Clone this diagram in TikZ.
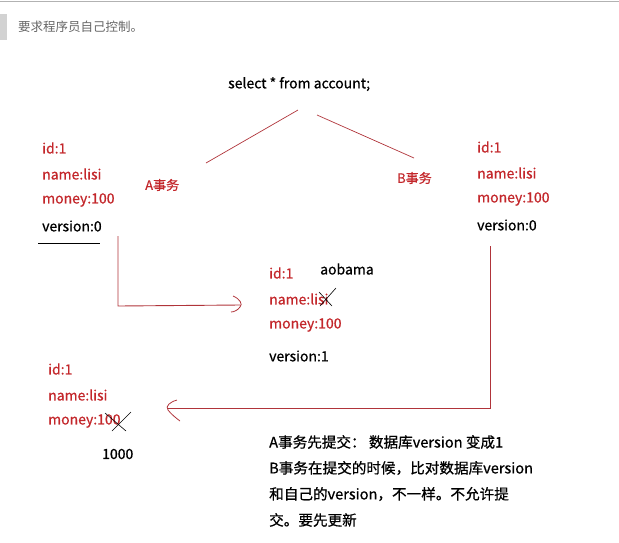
\documentclass[tikz,border=0pt]{standalone}
\usepackage{fontspec}
\setmainfont{Noto Sans CJK SC}[BoldFont={Noto Sans CJK SC},BoldFeatures={FakeBold=0.7}]
\usetikzlibrary{calc}
\definecolor{rd}{HTML}{C3272B}
\definecolor{ln}{HTML}{B0343A}
\begin{document}
\begin{tikzpicture}[x=1pt,y=-1pt,
  t/.style={anchor=west,inner sep=0pt,font=\bfseries\fontsize{14}{16}\selectfont},
  r/.style={t,text=rd},
  k/.style={t,text=black},
  bt/.style={k,font=\bfseries\fontsize{14.6}{16}\selectfont},
  wire/.style={draw=ln,line width=0.9pt},
  cross/.style={draw=black,line width=0.6pt}]
\useasboundingbox (0,0) rectangle (619,542);
\draw[gray!60,line width=1pt] (0,1) -- (619,1);
\fill[gray!35] (0,14) rectangle (7,40);
\node[anchor=west,inner sep=0pt,text=gray!80!black,font=\fontsize{12.5}{14}\selectfont] (hd) at (18,27) {要求程序员自己控制。};
\node[k] (sel) at (228,84) {select * from account;};
\node[r,font=\bfseries\fontsize{13}{15}\selectfont] (ta) at (145,185) {A事务};
\node[r,font=\bfseries\fontsize{13}{15}\selectfont] (tb) at (397,178) {B事务};
\draw[wire,line width=0.7pt] (298,110) -- (206,163);
\draw[wire,line width=0.7pt] (317,115) -- (414,158);
% left block
\node[r] (l1) at (42,148) {id:1};
\node[r] (l2) at (42,174) {name:lisi};
\node[r] (l3) at (42,200) {money:100};
\node[k] (l4) at (42,226) {version:0};
\draw[black,line width=0.8pt] (38,243) -- (100,243);
% right block
\node[r] (r1) at (477,147) {id:1};
\node[r] (r2) at (477,173) {name:lisi};
\node[r] (r3) at (477,199) {money:100};
\node[k] (r4) at (477,225) {version:0};
% middle block
\node[r] (m1) at (269,273) {id:1};
\node[k] (ao) at (320,269) {aobama};
\node[r] (m2) at (269,299) {name:lisi};
\node[r] (m3) at (269,325) {money:100};
\node[k] (m4) at (269,356) {version:1};
\draw[cross] (319,292) -- (332,306) (320,306) -- (336,288);
% lower-left block
\node[r] (d1) at (48,369) {id:1};
\node[r] (d2) at (48,395) {name:lisi};
\node[r] (d3) at (48,421) {money:100};
\node[k] (d4) at (102,454) {1000};
\draw[cross] (105,413) -- (126,431) (112,431) -- (131,412);
% arrows
\coordinate (a0) at (118,236);
\coordinate (a1) at (118,306);
\coordinate (a2) at (240,305);
\draw[wire] (a0) -- (a1) -- (a2);
\draw[wire,line width=0.8pt] (233,296) .. controls (240,299) and (243,304) .. (240,307) .. controls (238,310) and (234,312) .. (231,312);
\coordinate (b0) at (490,246);
\coordinate (b1) at (490,408);
\coordinate (b2) at (168,408);
\draw[wire] (b0) -- (b1) -- (b2);
\draw[wire,line width=0.8pt] (177,400) .. controls (170,402) and (165,406) .. (168,410) .. controls (171,414) and (176,418) .. (180,421);
% bottom text
\node[bt] (n1) at (269,442) {A事务先提交： 数据库version 变成1};
\node[bt] (n2) at (269,468) {B事务在提交的时候，比对数据库version};
\node[bt] (n3) at (269,494) {和自己的version，不一样。不允许提};
\node[bt] (n4) at (269,520) {交。要先更新};
\end{tikzpicture}
\end{document}
